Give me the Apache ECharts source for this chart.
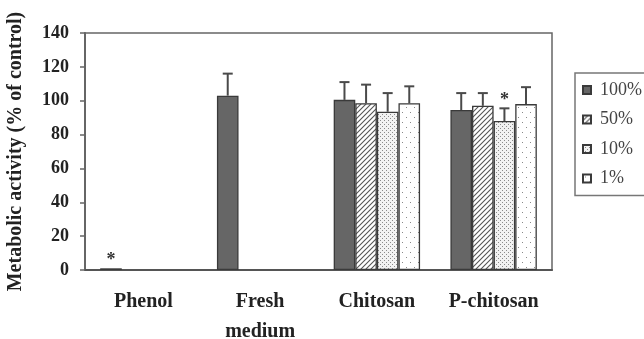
<!DOCTYPE html>
<html><head><meta charset="utf-8">
<script src="https://cdn.jsdelivr.net/npm/echarts@6/dist/echarts.min.js"></script>
<style>html,body{margin:0;padding:0;background:#fff}#c{width:644px;height:339px}</style>
</head><body><div id="c"></div>
<script>
// ---- data ----
var categories = ['Phenol', 'Fresh\nmedium', 'Chitosan', 'P-chitosan'];
var seriesNames = ['100%', '50%', '10%', '1%'];
var v100 = [1, 103, 100.5, 94.5];
var v50  = [null, null, 98.5, 97];
var v10  = [null, null, 93.5, 88];
var v1   = [null, null, 98.5, 98];
var e100 = [0, 13, 10.5, 10];
var e50  = [null, null, 11, 7.5];
var e10  = [null, null, 11, 7.5];
var e1   = [null, null, 10, 10];
var star100 = [1, 0, 0, 0];
var star50  = [0, 0, 0, 0];
var star10  = [0, 0, 0, 1];
var star1   = [0, 0, 0, 0];
var yTicks = [0, 20, 40, 60, 80, 100, 120, 140];

var values = [v100, v50, v10, v1];
var errs = [e100, e50, e10, e1];
var stars = [star100, star50, star10, star1];

// ---- patterns ----
function mk(w, h, draw) {
  var c = document.createElement('canvas'); c.width = w; c.height = h;
  var g = c.getContext('2d'); draw(g, w, h); return c;
}
var hatch = mk(5, 5, function (g, w, h) {
  g.fillStyle = '#fff'; g.fillRect(0, 0, w, h);
  g.strokeStyle = '#555'; g.lineWidth = 1.1;
  g.beginPath(); g.moveTo(-1, h + 1); g.lineTo(w + 1, -1);
  g.moveTo(-1, 1); g.lineTo(1, -1);
  g.moveTo(w - 1, h + 1); g.lineTo(w + 1, h - 1); g.stroke();
});
var dense = mk(4, 4, function (g, w, h) {
  g.fillStyle = '#f2f2f2'; g.fillRect(0, 0, w, h);
  g.fillStyle = '#8a8a8a'; g.fillRect(0, 0, 1, 1); g.fillRect(2, 2, 1, 1);
});
var sparse = mk(8, 10, function (g, w, h) {
  g.fillStyle = '#fff'; g.fillRect(0, 0, w, h);
  g.fillStyle = '#888'; g.fillRect(2, 2, 1, 1); g.fillRect(6, 7, 1, 1);
});
var fills = ['#666666', {image: hatch, repeat: 'repeat'}, {image: dense, repeat: 'repeat'}, {image: sparse, repeat: 'repeat'}];

var chart = echarts.init(document.getElementById('c'), null, {renderer: 'canvas'});
var serif = 'Liberation Serif';

var series = [];
seriesNames.forEach(function (n, k) {
  series.push({
    name: n, type: 'bar', data: values[k],
    barGap: '0%', barCategoryGap: '26%',
    itemStyle: {color: fills[k], borderColor: '#3a3a3a', borderWidth: 1.3},
    emphasis: {disabled: true}, z: 2
  });
});
var nSeries = seriesNames.length;
var errData = [];
for (var k = 0; k < nSeries; k++) {
  for (var i = 0; i < categories.length; i++) {
    if (values[k][i] != null) errData.push([i, values[k][i], errs[k][i] || 0, stars[k][i], k]);
  }
}
series.push({
  type: 'custom', data: errData, z: 1, silent: true,
  encode: {x: 0, y: 1},
  renderItem: function (params, api) {
    var ci = api.value(0), v = api.value(1), e = api.value(2), st = api.value(3), k = api.value(4);
    var band = api.size([1, 0])[0];
    var group = band * 0.74, bw = group / nSeries;
    var c = api.coord([ci, v]);
    var x = c[0] - group / 2 + bw * (k + 0.5);
    var yTop = api.coord([ci, v + e])[1];
    var children = [];
    if (e > 0) {
      children.push({type: 'line', shape: {x1: x, y1: c[1], x2: x, y2: yTop}, style: {stroke: '#4a4a4a', lineWidth: 2}});
      children.push({type: 'line', shape: {x1: x - 5, y1: yTop, x2: x + 5, y2: yTop}, style: {stroke: '#4a4a4a', lineWidth: 2}});
    }
    if (st) {
      children.push({type: 'text', style: {text: '*', x: x, y: yTop - 8, align: 'center', verticalAlign: 'middle', font: 'bold 18px ' + serif, fill: '#333'}});
    }
    return {type: 'group', children: children};
  }
});

chart.setOption({
  animation: false,
  backgroundColor: '#fff',
  grid: {left: 85, right: 92, top: 33, bottom: 69, show: true, borderColor: '#666', borderWidth: 1.5, outerBoundsMode: 'none', containLabel: false},
  legend: {
    data: seriesNames, orient: 'vertical', left: 575, top: 73,
    itemWidth: 8, itemHeight: 8, itemGap: 11.5, icon: 'rect',
    padding: [8, 40, 8, 7], borderColor: '#777', borderWidth: 1.5,
    textStyle: {fontFamily: serif, fontSize: 18, color: '#444', padding: [0, 0, 0, 4]}
  },
  xAxis: {
    type: 'category', data: categories,
    axisLine: {lineStyle: {color: '#555', width: 2}},
    axisTick: {show: false},
    axisLabel: {fontFamily: serif, fontWeight: 'bold', fontSize: 20, color: '#222', margin: 17, lineHeight: 30, interval: 0, verticalAlign: 'top'}
  },
  yAxis: {
    type: 'value', min: yTicks[0], max: yTicks[yTicks.length - 1], interval: yTicks[1] - yTicks[0],
    name: 'Metabolic activity (% of control)', nameLocation: 'middle', nameGap: 59,
    nameTextStyle: {fontFamily: serif, fontWeight: 'bold', fontSize: 20, color: '#222'},
    axisLine: {show: true, lineStyle: {color: '#666', width: 2}},
    axisTick: {show: true, length: 5, lineStyle: {color: '#666', width: 1.5}},
    splitLine: {show: false},
    axisLabel: {fontFamily: serif, fontWeight: 'bold', fontSize: 18, color: '#222', margin: 16}
  },
  series: series
});
</script></body></html>
